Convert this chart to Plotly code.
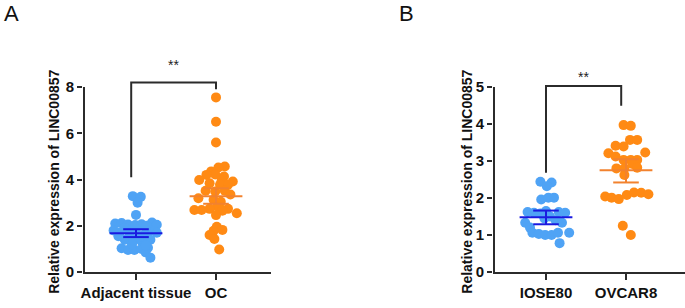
import plotly.graph_objects as go

# ---------------- data ----------------
groups_a = ["Adjacent tissue", "OC"]
groups_b = ["IOSE80", "OVCAR8"]

adj_vals = [3.28, 3.25, 3.00, 2.47, 2.10, 2.12, 2.05, 2.03, 2.06, 2.14, 2.04, 1.80, 1.72, 1.80, 1.70,
            1.68, 1.62, 1.40, 1.38, 1.32, 1.40, 1.55, 1.50, 1.03, 0.95, 0.95, 1.00, 1.05, 0.85, 0.62,
            1.85, 1.20, 1.15, 2.00, 1.90]
adj_jit = [-0.04, 0.06, 0.02, 0.00, -0.26, -0.18, -0.10, -0.01, 0.07, 0.20, 0.26, -0.28, -0.20, 0.18, 0.26,
           -0.08, 0.10, -0.14, -0.03, 0.07, 0.18, -0.22, 0.03, -0.18, -0.10, -0.02, 0.07, 0.15, 0.12, 0.18,
           0.00, -0.05, 0.12, 0.13, -0.14]

oc_vals = [7.55, 6.50, 5.60, 4.56, 4.52, 4.35, 4.22, 4.20, 4.13, 3.98, 3.95, 3.91, 3.84, 3.77, 3.77,
           3.51, 3.48, 3.51, 3.35, 3.19, 3.12, 3.04, 2.83, 2.73, 2.73, 2.68, 2.68, 2.65, 2.54, 2.46,
           1.96, 1.82, 1.78, 1.60, 1.43, 0.97]
oc_jit = [0.00, 0.00, 0.00, 0.11, 0.03, -0.06, -0.01, -0.12, 0.10, -0.21, 0.07, 0.21, -0.08, 0.05, 0.15,
          -0.13, -0.01, 0.11, 0.18, -0.22, -0.03, 0.06, 0.02, -0.08, 0.15, -0.27, -0.18, 0.08, 0.26, 0.00,
          0.01, 0.08, -0.03, -0.08, -0.02, 0.04]

iose_vals = [2.44, 2.42, 2.32, 1.96, 2.01, 2.01, 1.62, 1.60, 1.58, 1.62, 1.60, 1.45, 1.50, 1.40, 1.33,
             1.33, 1.20, 1.06, 1.03, 1.00, 1.00, 1.06, 1.06, 0.78, 1.65]
iose_jit = [-0.07, 0.07, 0.01, -0.06, 0.03, 0.10, -0.23, -0.15, -0.07, 0.16, 0.24, -0.02, 0.05, 0.12, -0.26,
            0.20, -0.20, -0.17, -0.09, -0.01, 0.07, 0.15, 0.29, 0.17, 0.00]

ovcar_vals = [3.97, 3.95, 3.57, 3.57, 3.41, 3.39, 3.21, 3.23, 3.12, 3.03, 3.03, 3.03, 2.92, 2.80, 2.80,
              2.82, 2.62, 2.04, 2.01, 1.97, 2.08, 2.15, 2.14, 2.10, 1.25, 1.00]
ovcar_jit = [-0.03, 0.06, 0.05, 0.14, -0.13, -0.03, -0.22, 0.24, -0.13, -0.03, 0.06, 0.14, 0.08, -0.12, -0.02,
             0.14, -0.02, -0.26, -0.18, -0.09, 0.01, 0.10, 0.19, 0.28, -0.04, 0.06]

means_a = [1.68, 3.28]
sem_lo_a = [1.51, 2.95]
sem_hi_a = [1.85, 3.62]
means_b = [1.48, 2.75]
sem_lo_b = [1.29, 2.42]
sem_hi_b = [1.66, 3.05]

ticks_a = [0, 2, 4, 6, 8]
ticks_b = [0, 1, 2, 3, 4, 5]

# significance brackets (y levels of left leg bottom, top, right leg bottom)
bracket_a = [4.1, 8.2, 7.9]
bracket_b = [2.68, 5.03, 4.49]
sig_label = "**"

# ---------------- style ----------------
BLUE_PT = "#4FA3F5"
ORANGE_PT = "#FF8A14"
BLUE_LN = "#1A1AE0"
ORANGE_LN = "#F2822E"
AX = "#2b2b2b"
FONT = "Liberation Sans, Arial, sans-serif"

W, H = 685, 308
fig = go.Figure()


def add_group(xa, ya, cx, vals, jit, color):
    fig.add_trace(go.Scatter(
        x=[cx + j for j in jit], y=vals, mode="markers",
        marker=dict(size=10, color=color, line=dict(width=0)),
        xaxis=xa, yaxis=ya, showlegend=False, hoverinfo="y", cliponaxis=False))


def add_stats(xa, ya, cx, m, lo, hi, color):
    fig.add_trace(go.Scatter(x=[cx - 0.33, cx + 0.33], y=[m, m], mode="lines",
                             line=dict(color=color, width=2), xaxis=xa, yaxis=ya,
                             showlegend=False, hoverinfo="skip"))
    fig.add_trace(go.Scatter(
        x=[cx, cx, None, cx - 0.16, cx + 0.16, None, cx - 0.16, cx + 0.16],
        y=[lo, hi, None, lo, lo, None, hi, hi], mode="lines",
        line=dict(color=color, width=2), xaxis=xa, yaxis=ya,
        showlegend=False, hoverinfo="skip"))


add_group("x", "y", 0, adj_vals, adj_jit, BLUE_PT)
add_group("x", "y", 1, oc_vals, oc_jit, ORANGE_PT)
add_group("x2", "y2", 0, iose_vals, iose_jit, BLUE_PT)
add_group("x2", "y2", 1, ovcar_vals, ovcar_jit, ORANGE_PT)

add_stats("x", "y", 0, means_a[0], sem_lo_a[0], sem_hi_a[0], BLUE_LN)
add_stats("x", "y", 1, means_a[1], sem_lo_a[1], sem_hi_a[1], ORANGE_LN)
add_stats("x2", "y2", 0, means_b[0], sem_lo_b[0], sem_hi_b[0], BLUE_LN)
add_stats("x2", "y2", 1, means_b[1], sem_lo_b[1], sem_hi_b[1], ORANGE_LN)

# brackets
fig.add_trace(go.Scatter(x=[-0.06, -0.06, 1, 1], y=[bracket_a[0], bracket_a[1], bracket_a[1], bracket_a[2]],
                         mode="lines", line=dict(color=AX, width=2), xaxis="x", yaxis="y",
                         showlegend=False, hoverinfo="skip"))
fig.add_trace(go.Scatter(x=[0.0, 0.0, 0.94, 0.94], y=[bracket_b[0], bracket_b[1], bracket_b[1], bracket_b[2]],
                         mode="lines", line=dict(color=AX, width=2), xaxis="x2", yaxis="y2",
                         showlegend=False, hoverinfo="skip"))

# ---------------- layout ----------------
PXU_X = 80.0
y0_px = 272.0          # pixel row of y = 0
top_px = 50.0
pxu_a = 185.0 / 8.0
pxu_b = 185.0 / 5.0
ydom = [(H - y0_px) / H, (H - top_px) / H]

xr_a = [-0.6625, 1.6875]
catA0 = 136.0
xdom_a = [(catA0 + xr_a[0] * PXU_X) / W, (catA0 + xr_a[1] * PXU_X) / W]
xr_b = [-0.6625, 1.7375]
catB0 = 546.0
xdom_b = [(catB0 + xr_b[0] * PXU_X) / W, min(1.0, (catB0 + xr_b[1] * PXU_X) / W)]

tickfont = dict(family=FONT, size=15, color="#111", weight="bold")

xaxis_common = dict(showgrid=False, zeroline=False, showline=True, linecolor=AX, linewidth=2,
                    ticks="outside", ticklen=6, tickwidth=2, tickcolor=AX, tickfont=tickfont,
                    fixedrange=True, automargin=False)
yaxis_common = dict(showgrid=False, zeroline=False, showline=False,
                    ticks="outside", ticklen=5, tickwidth=2, tickcolor=AX, tickfont=tickfont,
                    fixedrange=True, automargin=False)

fig.update_layout(
    width=W, height=H, margin=dict(l=0, r=0, t=0, b=0, pad=0, autoexpand=False),
    paper_bgcolor="white", plot_bgcolor="white", showlegend=False,
    xaxis=dict(domain=xdom_a, range=xr_a, tickvals=[0, 1], ticktext=groups_a, anchor="y", **xaxis_common),
    yaxis=dict(domain=ydom, range=[0, (y0_px - top_px) / pxu_a], tickvals=ticks_a, anchor="x", **yaxis_common),
    xaxis2=dict(domain=xdom_b, range=xr_b, tickvals=[0, 1], ticktext=groups_b, anchor="y2", **xaxis_common),
    yaxis2=dict(domain=ydom, range=[0, (y0_px - top_px) / pxu_b], tickvals=ticks_b, anchor="x2", **yaxis_common),
)

# y-axis lines (only up to the last tick)
fig.add_shape(type="line", xref="x", yref="y", x0=-0.65, x1=-0.65, y0=0, y1=ticks_a[-1],
              line=dict(color=AX, width=2))
fig.add_shape(type="line", xref="x2", yref="y2", x0=-0.65, x1=-0.65, y0=0, y1=ticks_b[-1],
              line=dict(color=AX, width=2))

title_font = dict(family=FONT, size=14, color="#111", weight="bold")
ytitle = "Relative expression of LINC00857"
fig.add_annotation(text=ytitle, textangle=-90, xref="paper", yref="y", x=54 / W, y=ticks_a[-1] / 2 - 0.1,
                   showarrow=False, font=title_font, xanchor="center", yanchor="middle")
fig.add_annotation(text=ytitle, textangle=-90, xref="paper", yref="y2", x=467 / W, y=ticks_b[-1] / 2 - 0.06,
                   showarrow=False, font=title_font, xanchor="center", yanchor="middle")

# significance labels
fig.add_annotation(text=sig_label, xref="x", yref="y", x=0.47, y=8.95, showarrow=False,
                   font=dict(family=FONT, size=14, color="#222"))
fig.add_annotation(text=sig_label, xref="x2", yref="y2", x=0.47, y=5.27, showarrow=False,
                   font=dict(family=FONT, size=14, color="#222"))

# panel letters
fig.add_annotation(text="A", xref="paper", yref="paper", x=11 / W, y=1 - 13 / H, xanchor="center",
                   yanchor="middle", showarrow=False, font=dict(family=FONT, size=22, color="#111"))
fig.add_annotation(text="B", xref="paper", yref="paper", x=406 / W, y=1 - 13 / H, xanchor="center",
                   yanchor="middle", showarrow=False, font=dict(family=FONT, size=22, color="#111"))

fig.write_html("out.html", config={"displayModeBar": False, "staticPlot": True},
               post_script="document.body.style.margin='0';document.body.style.padding='0';"
                           "document.documentElement.style.overflow='hidden';")
